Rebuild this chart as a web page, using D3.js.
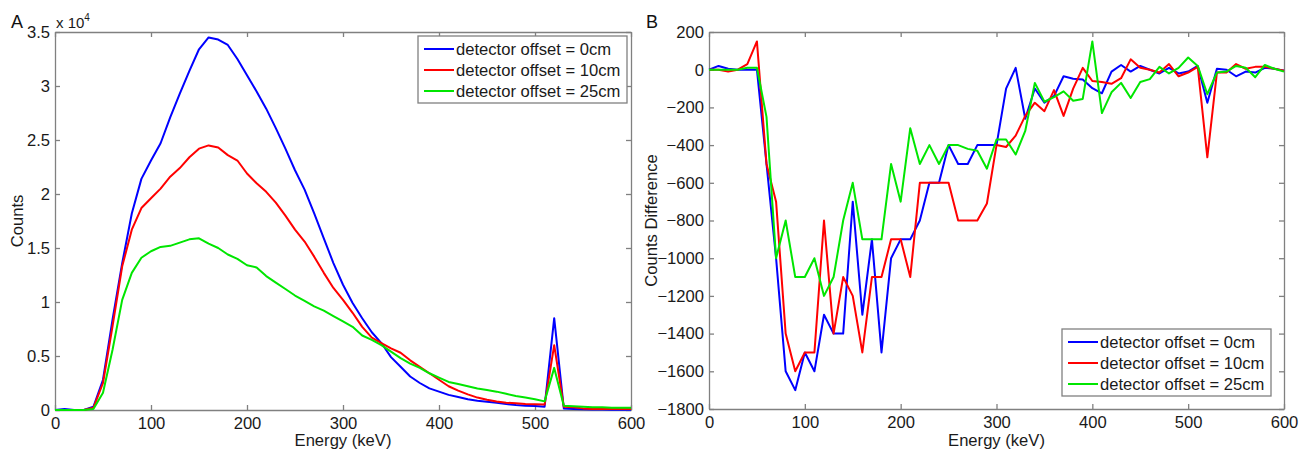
<!DOCTYPE html>
<html>
<head>
<meta charset="utf-8">
<script src="https://cdn.jsdelivr.net/npm/d3@7"></script>
<style>
    body { margin: 0; background: #fff; }
    svg { display: block; font-family: "Liberation Sans", Arial, sans-serif; }
    .tick text { font-size: 16.6px; fill: #1a1a1a; font-family: "Liberation Sans", Arial, sans-serif; }
    .axis path, .axis line { stroke: #808080; stroke-width: 1.3; }
    .series { fill: none; stroke-width: 2; stroke-linejoin: round; }
    .label { font-size: 16.6px; fill: #1a1a1a; }
</style>
</head>
<body>
<svg id="chart" width="1303" height="456"></svg>
<script>
var energy = [0, 10, 20, 30, 40, 50, 60, 70, 80, 90, 100, 110, 120, 130, 140, 150, 160, 170, 180, 190,
    200, 210, 220, 230, 240, 250, 260, 270, 280, 290, 300, 310, 320, 330, 340, 350, 360, 370, 380, 390,
    400, 410, 420, 430, 440, 450, 460, 470, 480, 490, 500, 510, 520, 530, 540, 550, 560, 570, 580, 590, 600];

var seriesNames = ["detector offset = 0cm", "detector offset = 10cm", "detector offset = 25cm"];
var seriesColors = ["#0000ff", "#ff0000", "#00e600"];

// panel A: counts
var counts0 = [0, 100, 0, 0, 300, 2800, 8400, 13600, 18200, 21400, 23100, 24700, 27100, 29300, 31400, 33400, 34500, 34300, 33800, 32500,
    31000, 29500, 27900, 26100, 24200, 22200, 20400, 18200, 15900, 13600, 11600, 9900, 8500, 7200, 6200, 4900, 4000, 3100, 2500, 2000,
    1700, 1400, 1200, 1000, 860, 770, 680, 560, 460, 400, 370, 300, 8500, 150, 100, 60, 50, 40, 30, 30, 30];
var counts10 = [0, 0, 0, 0, 200, 2500, 7800, 13300, 16700, 18700, 19600, 20500, 21600, 22400, 23400, 24200, 24500, 24300, 23600, 23100,
    21900, 21000, 20200, 19200, 18000, 16700, 15600, 14200, 12700, 11300, 10200, 9000, 7700, 6700, 6200, 5700, 5300, 4600, 4000, 3400,
    2800, 2200, 1800, 1450, 1150, 950, 780, 680, 620, 560, 530, 500, 6000, 300, 250, 150, 100, 100, 100, 100, 100];
var counts25 = [0, 0, 0, 0, 100, 1600, 5600, 10200, 12700, 14100, 14700, 15100, 15200, 15500, 15800, 15900, 15400, 15000, 14400, 14000,
    13400, 13200, 12400, 11800, 11200, 10600, 10100, 9600, 9200, 8700, 8200, 7700, 6900, 6500, 6000, 5400, 4800, 4300, 3900, 3400,
    3000, 2600, 2400, 2200, 2000, 1850, 1700, 1500, 1300, 1150, 1000, 800, 3900, 400, 350, 300, 250, 250, 200, 200, 200];

// panel B: counts difference
var diff0 = [0, 20, 5, 0, 0, 0, -500, -1000, -1600, -1700, -1500, -1600, -1300, -1400, -1400, -700, -1300, -900, -1500, -1000,
    -900, -900, -800, -600, -600, -400, -500, -500, -400, -400, -400, -100, 10, -260, -100, -175, -140, -35, -48, -52,
    -98, -125, -10, 25, -10, 20, 0, -20, 10, -20, -10, 20, -175, 5, 0, -35, -10, -15, 10, 5, -5];
var diff10 = [0, 0, -10, 0, 30, 150, -500, -700, -1400, -1600, -1500, -1500, -800, -1400, -1100, -1200, -1500, -1100, -1100, -900,
    -900, -1100, -600, -600, -600, -600, -800, -800, -800, -710, -400, -410, -350, -245, -175, -220, -108, -245, -100, 10,
    -60, -65, -75, -45, 55, 10, 0, -15, 30, -35, -15, 15, -465, -15, -15, 30, 5, 15, 15, 5, -5];
var diff25 = [0, 0, 0, 0, 10, 10, -250, -1000, -800, -1100, -1100, -1000, -1200, -1100, -800, -600, -900, -900, -900, -500,
    -700, -310, -500, -400, -500, -400, -400, -420, -430, -525, -370, -370, -450, -325, -70, -170, -145, -115, -165, -155,
    150, -230, -120, -70, -150, -65, -50, 15, -20, 10, 65, 20, -130, -15, -10, 20, 10, -40, 25, 5, -10];

var xTicks = [0, 100, 200, 300, 400, 500, 600];
var yTicksA = [0, 5000, 10000, 15000, 20000, 25000, 30000, 35000];
var yTicksB = [200, 0, -200, -400, -600, -800, -1000, -1200, -1400, -1600, -1800];

var svg = d3.select("#chart");

function drawPanel(opts) {
    var x = d3.scaleLinear().domain([0, 600]).range([opts.left, opts.right]);
    var y = d3.scaleLinear().domain(opts.yDomain).range([opts.bottom, opts.top]);
    var g = svg.append("g");

    g.append("g").attr("class", "axis")
        .attr("transform", "translate(0," + opts.bottom + ")")
        .call(d3.axisBottom(x).tickValues(xTicks).tickSizeInner(-5).tickSizeOuter(0).tickPadding(7)
            .tickFormat(d3.format("d")));
    g.append("g").attr("class", "axis")
        .attr("transform", "translate(0," + opts.top + ")")
        .call(d3.axisTop(x).tickValues(xTicks).tickSizeInner(-5).tickSizeOuter(0).tickFormat(""));
    g.append("g").attr("class", "axis")
        .attr("transform", "translate(" + opts.left + ",0)")
        .call(d3.axisLeft(y).tickValues(opts.yTicks).tickSizeInner(-5).tickSizeOuter(0).tickPadding(5)
            .tickFormat(opts.yFormat));
    g.append("g").attr("class", "axis")
        .attr("transform", "translate(" + opts.right + ",0)")
        .call(d3.axisRight(y).tickValues(opts.yTicks).tickSizeInner(-5).tickSizeOuter(0).tickFormat(""));

    var line = d3.line()
        .x(function (d, i) { return x(energy[i]); })
        .y(function (d) { return y(d); });

    g.append("g").selectAll("path.series")
        .data(opts.series)
        .enter().append("path")
        .attr("class", "series")
        .attr("stroke", function (d, i) { return seriesColors[i]; })
        .attr("d", line);

    // legend
    var lg = g.append("g").attr("transform", "translate(" + opts.legend[0] + "," + opts.legend[1] + ")");
    lg.append("rect")
        .attr("width", 209).attr("height", 67)
        .attr("fill", "#fff").attr("stroke", "#808080").attr("stroke-width", 1.3);
    var row = lg.selectAll("g.row")
        .data(seriesNames)
        .enter().append("g")
        .attr("transform", function (d, i) { return "translate(0," + (13 + i * 21) + ")"; });
    row.append("line")
        .attr("x1", 6).attr("x2", 36)
        .attr("stroke", function (d, i) { return seriesColors[i]; })
        .attr("stroke-width", 2);
    row.append("text")
        .attr("class", "label")
        .attr("x", 38).attr("y", 6)
        .text(function (d) { return d; });

    // axis titles
    g.append("text").attr("class", "label")
        .attr("x", (opts.left + opts.right) / 2).attr("y", 446)
        .attr("text-anchor", "middle")
        .text("Energy (keV)");
    g.append("text").attr("class", "label")
        .attr("transform", "translate(" + opts.yTitleX + "," + (opts.top + opts.bottom) / 2 + ") rotate(-90)")
        .attr("text-anchor", "middle")
        .text(opts.yTitle);
    g.append("text")
        .attr("x", opts.tagX).attr("y", 28)
        .attr("font-size", 18).attr("fill", "#111")
        .text(opts.tag);
    return g;
}

var gA = drawPanel({
    left: 55, right: 631, top: 32, bottom: 410,
    yDomain: [0, 35000], yTicks: yTicksA,
    yFormat: function (d) { return String(d / 10000); },
    series: [counts0, counts10, counts25],
    legend: [418, 36],
    yTitle: "Counts", yTitleX: 23,
    tag: "A", tagX: 11
});

var exp = gA.append("text").attr("class", "label")
    .attr("x", 56).attr("y", 28).style("font-size", "15px");
exp.append("tspan").text("x 10");
exp.append("tspan").attr("dy", -7).style("font-size", "10px").text("4");

drawPanel({
    left: 709, right: 1284, top: 32, bottom: 409,
    yDomain: [-1800, 200], yTicks: yTicksB,
    yFormat: d3.format("d"),
    series: [diff0, diff10, diff25],
    legend: [1062, 329],
    yTitle: "Counts Difference", yTitleX: 657,
    tag: "B", tagX: 646
});
</script>
</body>
</html>
